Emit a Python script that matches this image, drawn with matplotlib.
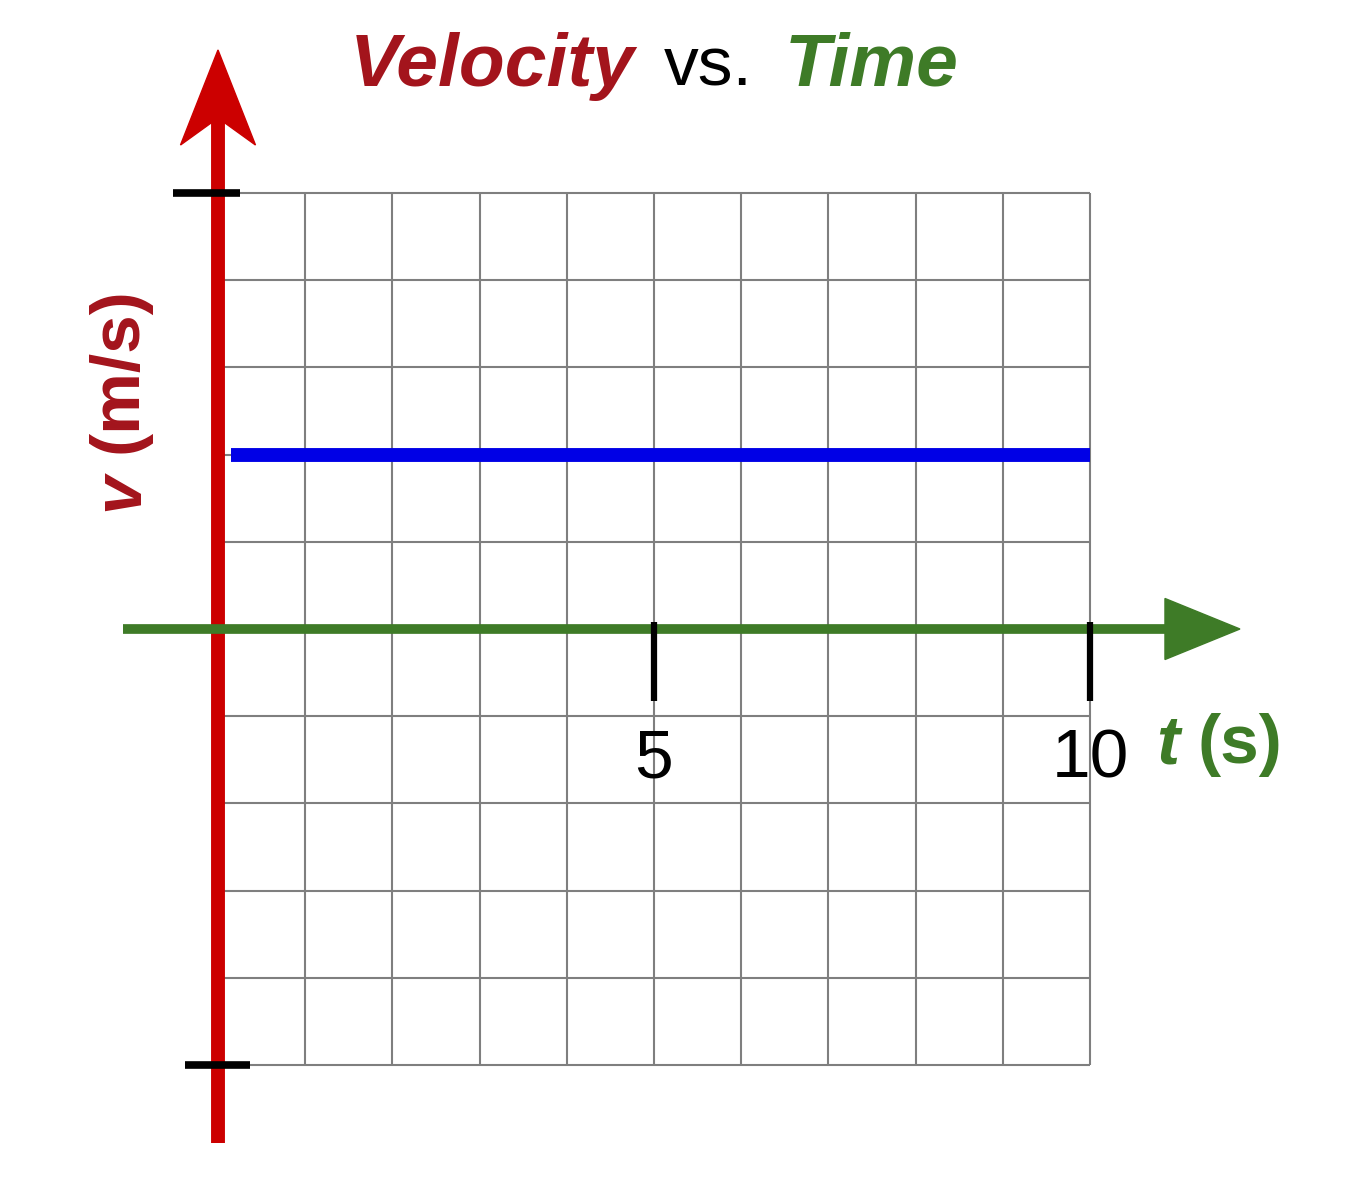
"""
Velocity vs. Time graph: constant velocity drawn on a 10 x 10 grid.
"""
import matplotlib
matplotlib.use("Agg")
import matplotlib.pyplot as plt
from matplotlib.patches import Polygon

# data
time_s = [0.15, 10]
velocity = [2, 2]
time_ticks = [5, 10]
time_tick_labels = ["5", "10"]
grid_t = list(range(1, 11))
grid_v = list(range(-5, 6))

RED = "#CC0000"
DARK_RED = "#A3141C"
GREEN = "#3E7B27"
BLUE = "#0000E6"
FONT = "Liberation Sans"

W, H = 1348, 1200
fig = plt.figure(figsize=(W / 100, H / 100), dpi=100)
ax = fig.add_axes([0, 0, 1, 1])
ax.set_xlim(-2.5, 12.959)
ax.set_ylim(-6.548, 7.213)
ax.axis("off")


def fx(px):
    return px / W


def fy(py):
    return 1 - py / H


# grid
ax.vlines(grid_t, -5, 5, color="#7F7F7F", lw=1.5, zorder=1)
ax.hlines(grid_v, 0, 10, color="#7F7F7F", lw=1.5, zorder=1)

# velocity line
ax.plot(time_s, velocity, color=BLUE, lw=10, solid_capstyle="butt", zorder=3)

# time axis (green) with triangle head
ax.plot([-1.09, 10.9], [0, 0], color=GREEN, lw=7, solid_capstyle="butt", zorder=5)
ax.add_patch(Polygon([[10.86, 0.35], [11.72, 0], [10.86, -0.35]],
                     closed=True, color=GREEN, zorder=5))

# velocity axis (red) with swept arrow head
ax.plot([0, 0], [-5.9, 5.9], color=RED, lw=10, solid_capstyle="butt", zorder=4)
ax.add_patch(Polygon([[0, 6.64], [0.43, 5.55], [0, 5.86], [-0.43, 5.55]],
                     closed=True, color=RED, zorder=4))

# end ticks on velocity axis
ax.plot([-0.52, 0.25], [5, 5], color="black", lw=5.5, solid_capstyle="butt", zorder=6)
ax.plot([-0.38, 0.37], [-5, -5], color="black", lw=5.5, solid_capstyle="butt", zorder=6)

# ticks on time axis
for t in time_ticks:
    ax.plot([t, t], [0.08, -0.82], color="black", lw=4.5, solid_capstyle="butt", zorder=6)
for t, lab in zip(time_ticks, time_tick_labels):
    ax.text(t, -1.5, lab, ha="center", va="center", fontsize=50,
            family=FONT, color="black", zorder=7)

# title
fig.text(fx(350), fy(86), "Velocity", ha="left", va="baseline", fontsize=54,
         fontweight="bold", style="italic", family=FONT, color=DARK_RED)
fig.text(fx(664), fy(86), "vs.", ha="left", va="baseline", fontsize=50,
         family=FONT, color="black")
fig.text(fx(785), fy(86), "Time", ha="left", va="baseline", fontsize=54,
         fontweight="bold", style="italic", family=FONT, color=GREEN)

# axis labels
fig.text(fx(120), fy(492), "v", ha="center", va="center", rotation=90, fontsize=50,
         fontweight="bold", style="italic", family=FONT, color=DARK_RED)
fig.text(fx(118), fy(370), "(m/s)", ha="center", va="center", rotation=90, fontsize=50,
         fontweight="bold", family=FONT, color=DARK_RED)
fig.text(fx(1168), fy(745), "t", ha="center", va="center", fontsize=50,
         fontweight="bold", style="italic", family=FONT, color=GREEN)
fig.text(fx(1240), fy(745), "(s)", ha="center", va="center", fontsize=50,
         fontweight="bold", family=FONT, color=GREEN)

fig.savefig("out.png", dpi=100, facecolor="white")
print("Saved: out.png")
